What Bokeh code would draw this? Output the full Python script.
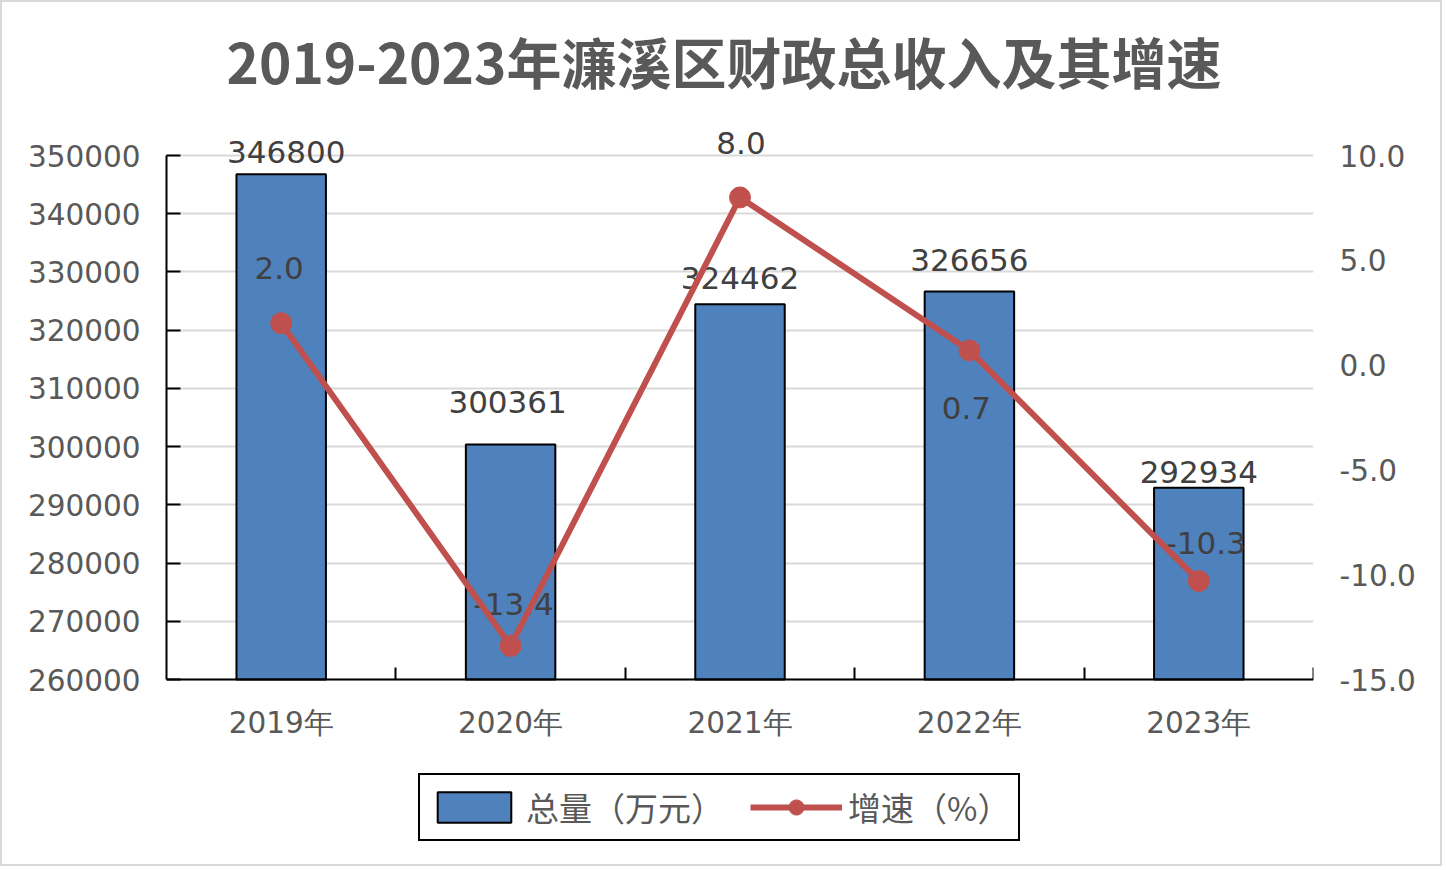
from bokeh.plotting import figure
from bokeh.models import (Range1d, LinearAxis, FixedTicker, ColumnDataSource, LabelSet,
                          Legend, LegendItem, NumeralTickFormatter, Title)
from bokeh.embed import file_html
from bokeh.resources import INLINE
from bokeh.core.properties import value

# ---------------- data ----------------
categories = ["2019年", "2020年", "2021年", "2022年", "2023年"]
totals = [346800, 300361, 324462, 326656, 292934]
growth = [2.0, -13.4, 8.0, 0.7, -10.3]
left_ticks = [260000, 270000, 280000, 290000, 300000, 310000, 320000, 330000, 340000, 350000]
right_ticks = [-15.0, -10.0, -5.0, 0.0, 5.0, 10.0]
title_text = "2019-2023年濂溪区财政总收入及其增速"
bar_name = "总量（万元）"
line_name = "增速（%）"

# ---------------- label placement (pixels) ----------------
bar_label_dx = [5, -3, 0, 0, 0]
bar_label_dy = [22, 43, 26, 31, 16]
growth_label_dx = [-2, 3, 1, -3, 7]
growth_label_dy = [55, 42, 54, -58, 38]

BLUE = "#4F81BD"
RED = "#C0504D"
TXT = "#595959"
NUMFONT = "DejaVu Sans"
CJK = "Noto Sans CJK SC"

AXIS_H = 524        # height of the value axes in px
EXTRA_TOP = 40      # room above the axes for data labels
EXTRA_BOTTOM = 181  # room below the axes for category labels and legend

n = len(categories)
xs = [i + 0.5 for i in range(n)]

src = ColumnDataSource(dict(
    x=xs, cat=categories, total=totals, growth=growth,
    total_txt=[str(v) for v in totals],
    growth_txt=["%.1f" % v for v in growth],
    bdx=bar_label_dx, bdy=bar_label_dy, gdx=growth_label_dx, gdy=growth_label_dy,
))

lspan = left_ticks[-1] - left_ticks[0]
rspan = right_ticks[-1] - right_ticks[0]

p = figure(
    frame_width=1147, frame_height=AXIS_H + EXTRA_TOP + EXTRA_BOTTOM,
    min_border_left=164, min_border_right=127, min_border_top=113, min_border_bottom=4,
    x_range=Range1d(0, n),
    y_range=Range1d(left_ticks[0] - EXTRA_BOTTOM * lspan / AXIS_H,
                    left_ticks[-1] + EXTRA_TOP * lspan / AXIS_H),
    output_backend="svg", toolbar_location=None, tools="",
    x_axis_location=None, y_axis_location=None,
)
p.styles = {"margin": "2px", "outline": "2px solid #D9D9D9"}
p.outline_line_color = None
p.background_fill_color = "white"
p.border_fill_color = "white"

p.extra_y_ranges = {"pct": Range1d(right_ticks[0] - EXTRA_BOTTOM * rspan / AXIS_H,
                                   right_ticks[-1] + EXTRA_TOP * rspan / AXIS_H)}

# title
t = Title(text=title_text, align="left", text_font=CJK, text_font_size="55px",
          text_font_style="bold", text_color=TXT, offset=60, standoff=31)
p.add_layout(t, "above")

# left axis
yl = LinearAxis(ticker=FixedTicker(ticks=left_ticks), formatter=NumeralTickFormatter(format="0"),
                bounds=(left_ticks[0], left_ticks[-1]))
yl.axis_line_color = "black"
yl.axis_line_width = 2
yl.major_tick_in = 14
yl.major_tick_out = 0
yl.major_tick_line_color = "black"
yl.major_tick_line_width = 2
yl.minor_tick_line_color = None
yl.major_label_standoff = 26
yl.major_label_text_font = NUMFONT
yl.major_label_text_font_size = "29.5px"
yl.major_label_text_color = TXT
p.add_layout(yl, "left")

# right axis
yr = LinearAxis(y_range_name="pct", ticker=FixedTicker(ticks=right_ticks),
                formatter=NumeralTickFormatter(format="0.0"))
yr.axis_line_color = None
yr.major_tick_line_color = None
yr.minor_tick_line_color = None
yr.major_label_standoff = 20
yr.major_label_text_font = NUMFONT
yr.major_label_text_font_size = "29.5px"
yr.major_label_text_color = TXT
p.add_layout(yr, "right")

# x axis at the bottom of the value axes: labels at category centres, ticks at boundaries
xa = LinearAxis(ticker=FixedTicker(ticks=xs, minor_ticks=list(range(1, n + 1))),
                major_label_overrides={x: c for x, c in zip(xs, categories)},
                fixed_location=left_ticks[0])
xa.axis_line_color = "black"
xa.axis_line_width = 2
xa.major_tick_line_color = None
xa.minor_tick_in = 12
xa.minor_tick_out = 0
xa.minor_tick_line_color = "black"
xa.minor_tick_line_width = 2
xa.major_label_standoff = 20
xa.major_label_text_font = NUMFONT
xa.major_label_text_font_size = "29.5px"
xa.major_label_text_color = TXT
p.add_layout(xa, "below")

# grid
p.xgrid.visible = False
p.ygrid.ticker = FixedTicker(ticks=left_ticks)
p.ygrid.grid_line_color = "#D9D9D9"
p.ygrid.grid_line_width = 2

# bars
bars = p.vbar(x="x", top="total", bottom=left_ticks[0], width=0.39, source=src,
              fill_color=BLUE, line_color="black", line_width=2)

bar_labels = LabelSet(x="x", y="total", text="total_txt", source=src,
                      x_offset="bdx", y_offset="bdy", text_align="center", text_baseline="middle",
                      text_font=value(NUMFONT), text_font_size="31px", text_color="#404040",
                      level="glyph")
growth_labels = LabelSet(x="x", y="growth", text="growth_txt", source=src, y_range_name="pct",
                         x_offset="gdx", y_offset="gdy", text_align="center", text_baseline="middle",
                         text_font=value(NUMFONT), text_font_size="31px", text_color="#404040",
                         level="glyph")
p.renderers.append(bar_labels)
p.renderers.append(growth_labels)

line = p.line(x="x", y="growth", source=src, y_range_name="pct", line_color=RED, line_width=6)
pts = p.scatter(x="x", y="growth", source=src, y_range_name="pct", size=21,
                fill_color=RED, line_color=RED)

legend = Legend(items=[LegendItem(label=bar_name, renderers=[bars]),
                       LegendItem(label=line_name, renderers=[line, pts])],
                orientation="horizontal", location=(252, 19), margin=0,
                glyph_width=92, glyph_height=38, label_standoff=6, spacing=26, padding=8,
                border_line_color="black", border_line_width=2, border_line_alpha=1.0,
                label_text_font=CJK, label_text_font_size="33px", label_text_color=TXT,
                background_fill_alpha=1.0)
p.add_layout(legend, "center")

open("out.html", "w").write(file_html(p, INLINE))
